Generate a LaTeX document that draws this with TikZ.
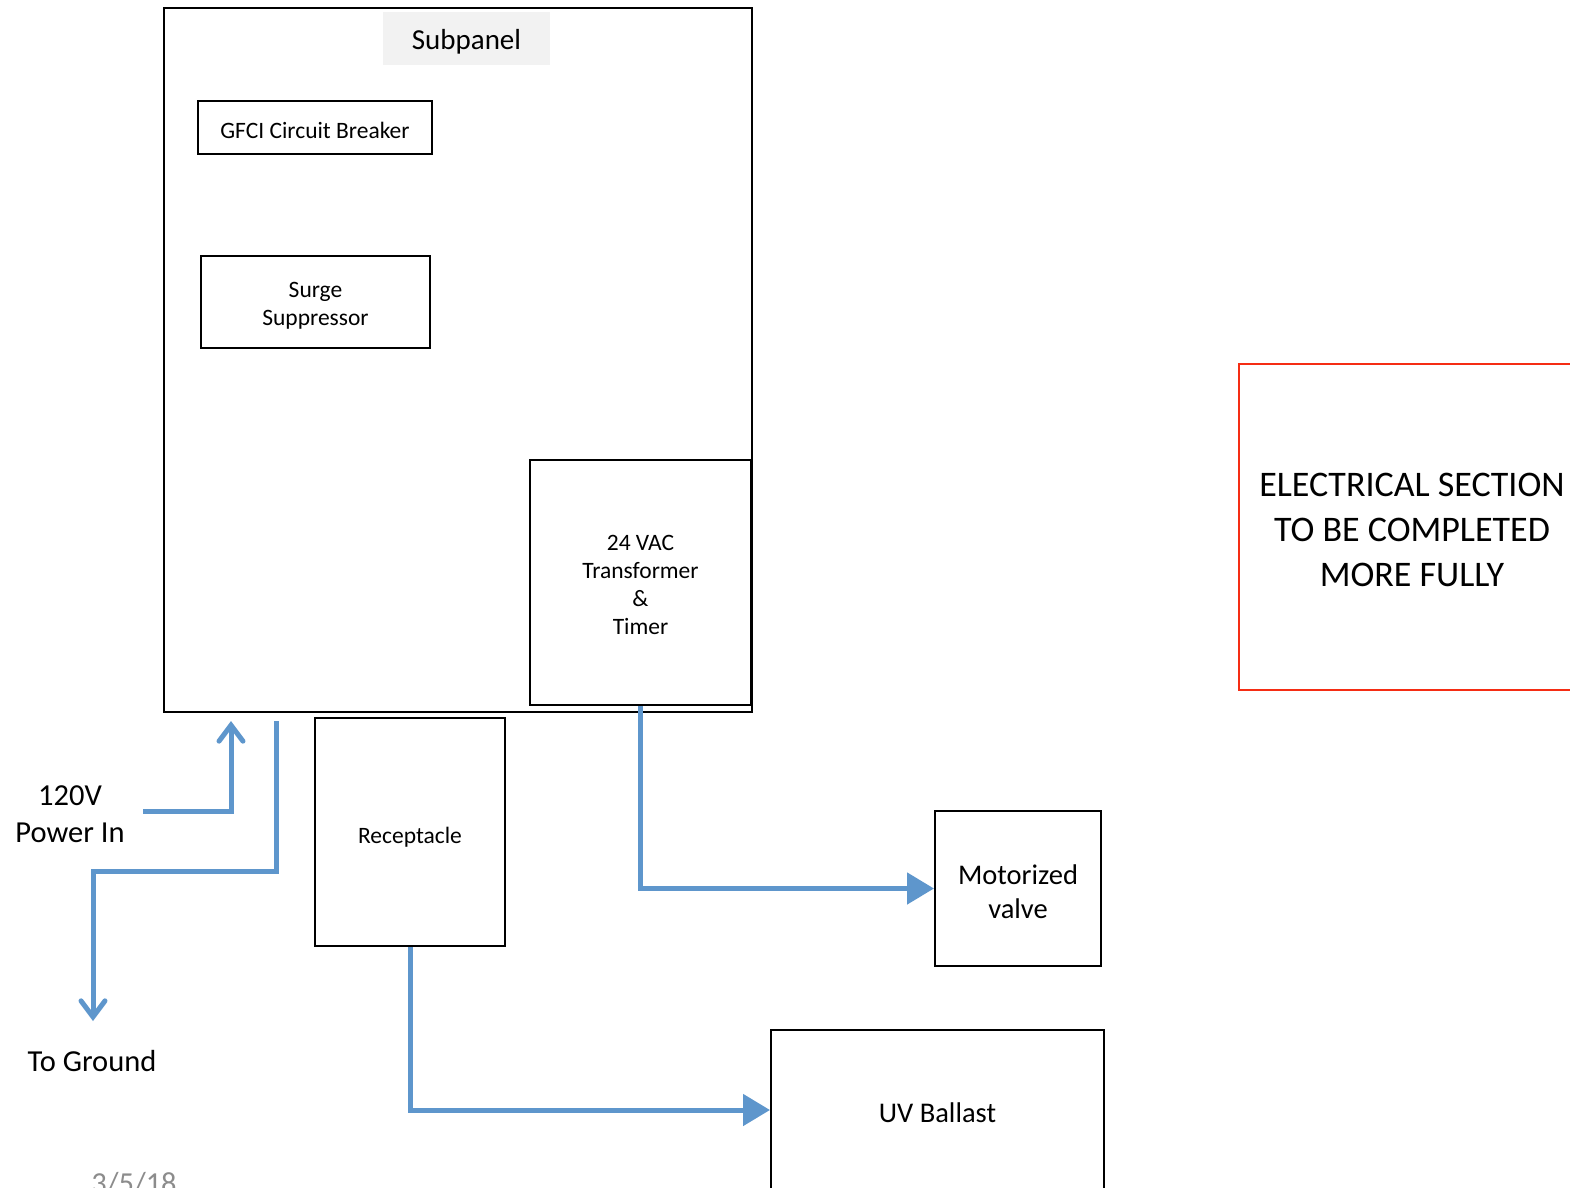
\documentclass[tikz,border=0pt]{standalone}
\usepackage{fontspec}
\setmainfont{Carlito}
\usetikzlibrary{arrows.meta,calc}
\definecolor{wire}{RGB}{94,150,204}
\definecolor{alert}{RGB}{245,45,20}
\definecolor{labelbg}{RGB}{242,242,242}
\definecolor{datecol}{RGB}{140,140,140}
% centred lines, set a little below the node centre without changing the node size
\newcommand\lowtext[2][1.5pt]{\raisebox{-#1}[\height][\depth]{\begin{tabular}{@{}c@{}}#2\end{tabular}}}
\begin{document}
\begin{tikzpicture}[x=0.5pt,y=-0.5pt,
  box/.style={draw=black, line width=1pt, rectangle, inner sep=0pt, align=center},
  small/.style={font=\fontsize{11.75}{14}\selectfont},
  medium/.style={font=\fontsize{14.25}{17}\selectfont},
  plain/.style={inner sep=0pt, align=center, font=\fontsize{15.25}{18.5}\selectfont},
  wire/.style={draw=wire, line width=2.5pt, line join=miter},
  feed/.style={wire, -{Triangle[length=13.5pt,width=15.5pt]}},
  lead/.style={wire, -{Straight Barb[length=8pt,width=12pt,line cap=round]}},
]
\path[use as bounding box, clip] (0,0) rectangle (1570,1188);

% subpanel enclosure and its title
\node[box, minimum width=294pt, minimum height=352pt] (subpanel) at (458,360) {};
\node[fill=labelbg, inner sep=0pt, minimum width=83.5pt, minimum height=26.5pt,
      font=\fontsize{14.5}{17.5}\selectfont] (sptitle) at (466.5,38.5) {\lowtext[2pt]{Subpanel}};

% components inside the subpanel
\node[box, small, minimum width=117pt, minimum height=26.5pt] (gfci) at (315,127.5) {\lowtext[2.5pt]{GFCI Circuit Breaker}};
\node[box, small, minimum width=114.5pt, minimum height=46pt] (surge) at (315.5,302) {\lowtext[2pt]{Surge\\Suppressor}};
\node[box, small, minimum width=110.5pt, minimum height=122.5pt] (xfmr) at (640.5,582.5) {\lowtext[2pt]{24 VAC\\Transformer\\\&\\Timer}};

% loads
\node[box, small, minimum width=95pt, minimum height=114pt] (recept) at (410,832) {\lowtext[3pt]{Receptacle}};
\node[box, medium, minimum width=83pt, minimum height=77.5pt] (valve) at (1018,888.5) {\lowtext[3pt]{Motorized\\valve}};
\node[box, medium, minimum width=166.5pt, minimum height=80pt] (uv) at (937.5,1110) {\lowtext[3pt]{UV Ballast}};

% note box
\node[draw=alert, line width=1pt, inner sep=0pt, minimum width=173pt, minimum height=163pt,
      align=center, font=\fontsize{18}{22.5}\selectfont] (note) at (1412,527)
      {\lowtext[2.5pt]{ELECTRICAL SECTION\\TO BE COMPLETED\\MORE FULLY}};

% free labels
\node[plain] (powerlbl) at (70,814) {120V\\Power In};
\node[plain] (gndlbl) at (92,1061) {To Ground};
\node[plain, anchor=base, text=datecol] (date) at (134,1193) {3/5/18};

% wire end points
\coordinate (pin) at (143,811);
\coordinate (pintip) at (231,721);
\coordinate (gnd0) at (276,721);
\coordinate (gndbend) at (93,871);
\coordinate (gndtip) at (93,1021);

% wiring
\draw[lead] (pin) -| (pintip);
\draw[lead] (gnd0) |- (gndbend) -- (gndtip);
\draw[feed] (xfmr.south) |- (valve.west);
\draw[feed] (recept.south) |- (uv.west);
\end{tikzpicture}
\end{document}
